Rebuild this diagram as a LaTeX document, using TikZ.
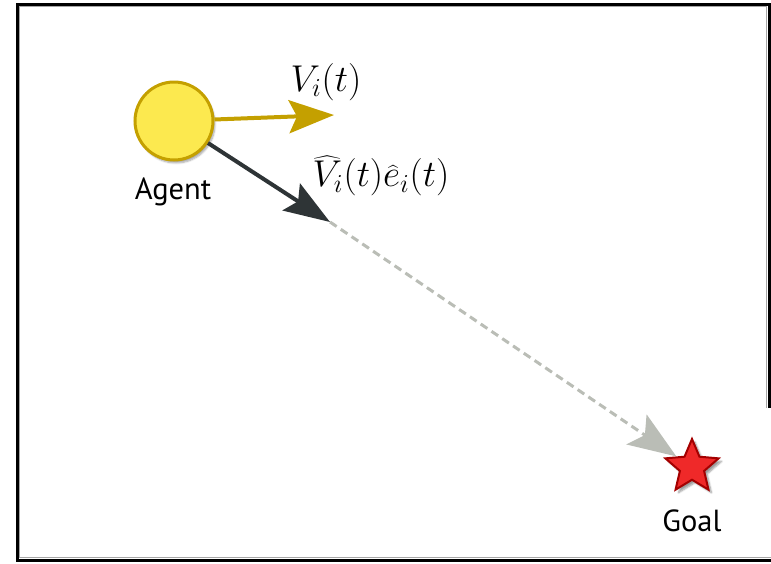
\documentclass[tikz,border=0pt]{standalone}
\usepackage{graphicx}
\usepackage{fontspec}
\newfontfamily\labfont{PT Sans}
\usetikzlibrary{arrows.meta,shapes.geometric,shadows.blur}
\definecolor{butter}{HTML}{FCE94F}
\definecolor{gold}{HTML}{C4A000}
\definecolor{alu}{HTML}{2E3436}
\definecolor{lgray}{HTML}{BABDB6}
\definecolor{scarlet}{HTML}{EF2929}
\definecolor{dred}{HTML}{A40000}
\tikzset{
  agentnode/.style={circle, fill=butter, draw=gold, line width=3pt, minimum size=78pt, inner sep=0pt,
    blur shadow={shadow xshift=2pt, shadow yshift=-3pt, shadow opacity=35, shadow blur steps=6}},
  goalstar/.style={star, star points=5, star point ratio=2.2, minimum size=56pt, inner sep=0pt,
    fill=scarlet, draw=dred, line width=2pt,
    blur shadow={shadow xshift=3pt, shadow yshift=-3pt, shadow opacity=40, shadow blur steps=6}},
  lab/.style={font=\labfont\fontsize{30.5}{34}\selectfont, inner sep=0pt},
  mathlab/.style={font=\fontsize{20}{24}\selectfont, inner sep=0pt},
  goldarrow/.style={draw=gold, line width=4pt, -{Stealth[length=45pt, width=33pt, inset=8pt, fill=gold]}},
  darkarrow/.style={draw=alu, line width=4pt, -{Stealth[length=46pt, width=32pt, inset=8pt, fill=alu]}},
  grayarrow/.style={draw=lgray, line width=3pt, dash pattern=on 8pt off 5pt, -{Stealth[length=48pt, width=36pt, inset=10pt, fill=lgray, sep=0pt]}},
}
\begin{document}
\begin{tikzpicture}[x=1pt, y=-1pt]
\useasboundingbox (0,0) rectangle (771,563);
\draw[line width=3pt, line join=miter] (769,408) -- (769,4) -- (17,4) -- (17,560) -- (771,560);
\draw[line width=0.8pt, black!35] (766,408) -- (766,6.5) -- (19.5,6.5) -- (19.5,557.5) -- (771,557.5);

\node[agentnode] (agent) at (174,121) {};
\node[lab] (agentlab) at (173,192) {Agent};
\coordinate (vtip) at (334,115);
\coordinate (mid) at (330,222);
\node[goalstar] (goal) at (692,467) {};
\node[lab] (goallab) at (692,521) {Goal};
\node[mathlab] (vlab) at (326,82) {\scalebox{1.8}{$V_i(t)$}};
\node[mathlab] (vhlab) at (381,176) {\scalebox{1.8}{$\widehat{V}_i(t)\widehat{e}_i(t)$}};

\draw[goldarrow] (agent) -- (vtip);
\draw[darkarrow] (agent) -- (mid);
\draw[grayarrow] (mid) -- (goal);
\end{tikzpicture}
\end{document}
